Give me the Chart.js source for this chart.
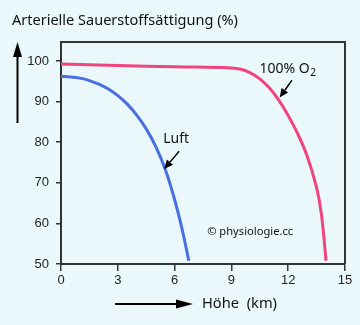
<!DOCTYPE html>
<html>
<head>
<meta charset="utf-8">
<script src="https://cdn.jsdelivr.net/npm/chart.js@4"></script>
<style>
  html, body { margin: 0; padding: 0; background: #eaf8fc; }
  #wrap { width: 360px; height: 325px; position: relative; }
</style>
</head>
<body>
<div id="wrap"><canvas id="satChart"></canvas></div>
<script>
// --- Daten ---
const hoeheLuft = [0, 0.5, 1, 1.5, 2, 2.5, 3, 3.5, 4, 4.5, 5, 5.5, 6, 6.4, 6.75];
const saettigungLuft = [96.2, 96.1, 95.8, 95.2, 94.3, 93.1, 91.5, 89.4, 86.7, 83.3, 79.0, 73.4, 65.9, 58.5, 50.8];

const hoeheO2 = [0, 3, 6, 9, 9.5, 10, 10.5, 11, 11.5, 12, 12.5, 13, 13.5, 13.75, 14.0];
const saettigungO2 = [99.3, 98.9, 98.6, 98.3, 98.0, 97.1, 95.6, 93.4, 90.4, 86.6, 82.1, 76.6, 68.8, 62.4, 50.8];

const xTicks = [0, 3, 6, 9, 12, 15];
const yTicks = [50, 60, 70, 80, 90, 100];

const toPoints = (xs, ys) => xs.map((x, i) => ({ x: x, y: ys[i] }));

function drawArrow(ctx, x1, y1, x2, y2, headLen, headW, lw) {
    const ang = Math.atan2(y2 - y1, x2 - x1);
    const bx = x2 - Math.cos(ang) * headLen;
    const by = y2 - Math.sin(ang) * headLen;
    ctx.save();
    ctx.strokeStyle = '#000';
    ctx.fillStyle = '#000';
    ctx.lineWidth = lw;
    ctx.beginPath();
    ctx.moveTo(x1, y1);
    ctx.lineTo(bx, by);
    ctx.stroke();
    ctx.beginPath();
    ctx.moveTo(x2, y2);
    ctx.lineTo(bx + Math.sin(ang) * headW, by - Math.cos(ang) * headW);
    ctx.lineTo(bx - Math.sin(ang) * headW, by + Math.cos(ang) * headW);
    ctx.closePath();
    ctx.fill();
    ctx.restore();
}

// text squeezed to the width seen in the original
function fitText(ctx, text, x, y, size, width) {
    ctx.font = size + 'px "Noto Sans", sans-serif';
    const s = Math.min(size, size * width / ctx.measureText(text).width);
    ctx.font = s.toFixed(2) + 'px "Noto Sans", sans-serif';
    ctx.fillText(text, x, y);
}

// frame, labels, arrows
const decoPlugin = {
    id: 'deco',
    afterDraw(chart) {
        const ctx = chart.ctx;
        const a = chart.chartArea;
        const sx = chart.scales.x, sy = chart.scales.y;
        const px = v => sx.getPixelForValue(v);
        const py = v => sy.getPixelForValue(v);

        // top + right frame
        ctx.save();
        ctx.strokeStyle = '#333';
        ctx.lineWidth = 2;
        ctx.beginPath();
        ctx.moveTo(a.left, a.top);
        ctx.lineTo(a.right, a.top);
        ctx.lineTo(a.right, a.bottom);
        ctx.stroke();

        ctx.fillStyle = '#111';
        ctx.textBaseline = 'alphabetic';
        ctx.textAlign = 'left';

        fitText(ctx, 'Arterielle Sauerstoffsättigung (%)', 12, 25, 15, 226);
        fitText(ctx, 'Höhe  (km)', 202, 308, 15, 75);

        // Luft
        fitText(ctx, 'Luft', px(5.4), py(79.8), 14, 28);

        // 100% O2
        const ox = px(10.48), oy = py(97.0);
        ctx.font = '14px "Noto Sans", sans-serif';
        ctx.fillText('100% O', ox, oy);
        const w = ctx.measureText('100% O').width;
        ctx.font = '10px "Noto Sans", sans-serif';
        ctx.fillText('2', ox + w + 0.5, oy + 3);

        // copyright
        fitText(ctx, '© physiologie.cc', px(7.72), py(57.1), 12, 86);
        ctx.restore();

        // annotation arrows
        drawArrow(ctx, px(6.24), py(77.8), px(5.45), py(73.4), 9, 4, 1.5);
        drawArrow(ctx, px(12.2), py(95.3), px(11.55), py(91.0), 9, 4, 1.5);

        // axis arrows
        drawArrow(ctx, 17.5, 123, 17.5, 42, 15, 4.5, 2);
        drawArrow(ctx, 115, 304, 193, 304, 17, 4.5, 2);
    }
};

new Chart(document.getElementById('satChart'), {
    type: 'line',
    data: {
        datasets: [
            {
                label: 'Luft',
                data: toPoints(hoeheLuft, saettigungLuft),
                borderColor: '#4a6ee0',
                borderWidth: 3,
                pointRadius: 0,
                tension: 0.4,
                fill: false
            },
            {
                label: '100% O2',
                data: toPoints(hoeheO2, saettigungO2),
                borderColor: '#f0447e',
                borderWidth: 3,
                pointRadius: 0,
                tension: 0.4,
                fill: false
            }
        ]
    },
    options: {
        responsive: true,
        maintainAspectRatio: false,
        animation: false,
        layout: { padding: { top: 42, right: 15, left: 0, bottom: 0 } },
        plugins: {
            legend: { display: false },
            tooltip: { enabled: false }
        },
        scales: {
            x: {
                type: 'linear',
                min: 0,
                max: 15,
                afterFit: s => { s.height = 61; },
                afterBuildTicks: s => { s.ticks = xTicks.map(v => ({ value: v })); },
                border: { display: true, color: '#333', width: 2 },
                grid: { drawOnChartArea: false, drawTicks: true, tickLength: 7, color: '#333', lineWidth: 1.5 },
                ticks: { padding: 2, color: '#222', font: { family: '"Liberation Sans", Arial, sans-serif', size: 13 } }
            },
            y: {
                type: 'linear',
                min: 50,
                max: 104.7,
                afterFit: s => { s.width = 61; },
                afterBuildTicks: s => { s.ticks = yTicks.map(v => ({ value: v })); },
                border: { display: true, color: '#333', width: 2 },
                grid: { drawOnChartArea: false, drawTicks: true, tickLength: 5, color: '#333', lineWidth: 1.5 },
                ticks: { padding: 7, color: '#222', font: { family: '"Liberation Sans", Arial, sans-serif', size: 13 } }
            }
        }
    },
    plugins: [decoPlugin]
});
</script>
</body>
</html>
